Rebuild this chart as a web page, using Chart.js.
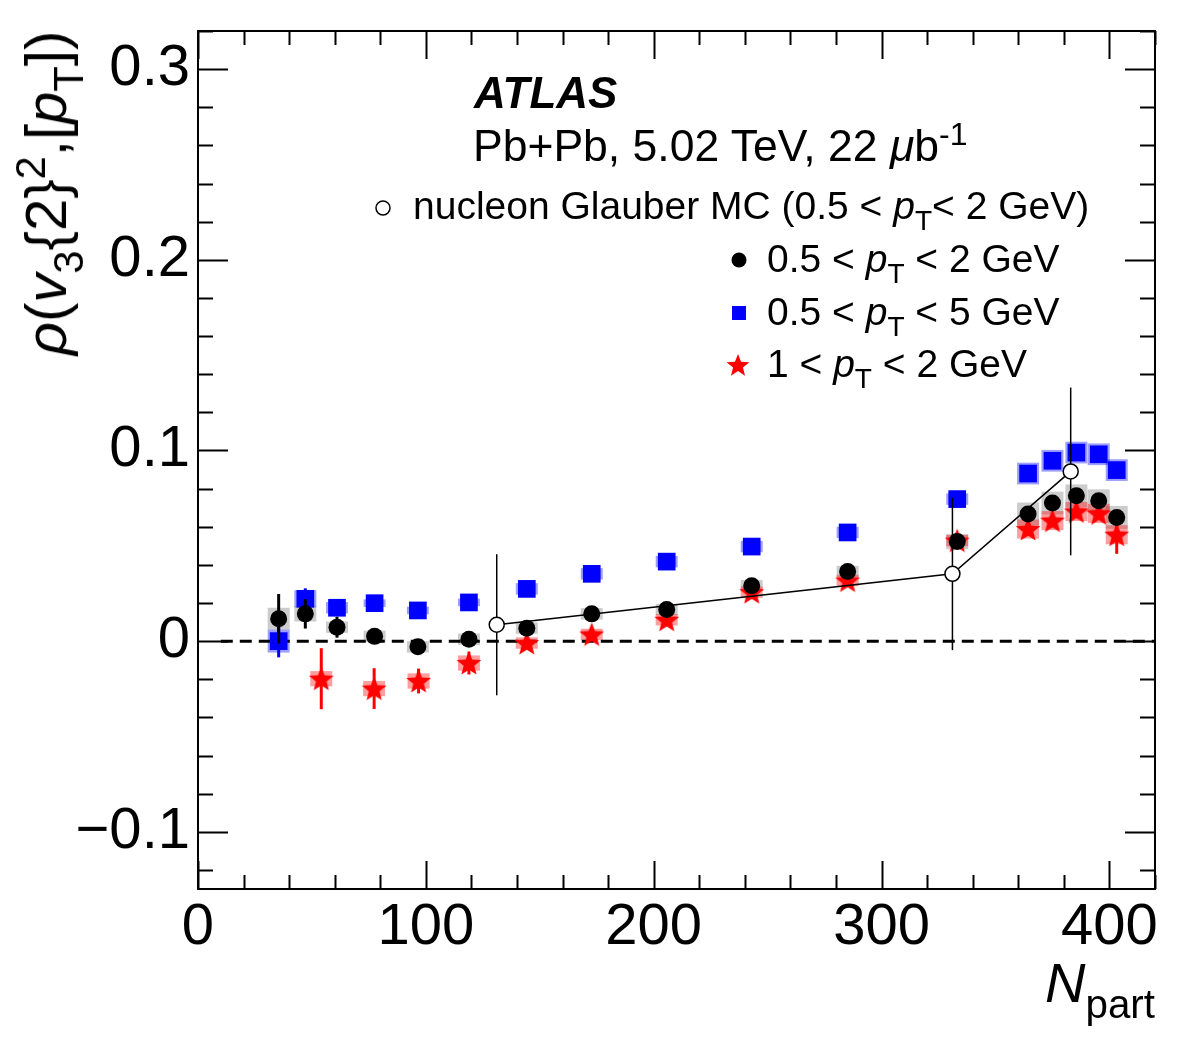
<!DOCTYPE html>
<html>
<head>
<meta charset="utf-8">
<script src="https://cdn.jsdelivr.net/npm/chart.js@4.4.1/dist/chart.umd.min.js"></script>
<style>
  html, body { margin: 0; padding: 0; background: #fff; }
  #wrap { position: relative; width: 1182px; height: 1059px; font-family: "Liberation Sans", Arial, sans-serif; color: #000; }
  #wrap canvas { position: absolute; left: 0; top: 0; }
  .txt { position: absolute; white-space: nowrap; line-height: 1; }
  .lo { font-size: 0.72em; position: relative; top: 0.4em; line-height: 0; }
  .hi { font-size: 0.72em; position: relative; top: -0.5em; line-height: 0; }
</style>
</head>
<body>
<div id="wrap">
  <canvas id="c" width="1182" height="1059"></canvas>

  <div class="txt" id="atlas" style="left:474px;top:71px;font-size:44px;font-weight:bold;font-style:italic;">ATLAS</div>
  <div class="txt" id="lumi" style="left:473px;top:124px;font-size:44.5px;">Pb+Pb, 5.02 TeV, 22 <i>μ</i>b<span class="hi">-1</span></div>

  <div class="txt" style="left:413px;top:186px;font-size:39px;">nucleon Glauber MC (0.5 &lt; <i>p</i><span class="lo">T</span>&lt; 2 GeV)</div>
  <div class="txt" style="left:767px;top:239px;font-size:39px;">0.5 &lt; <i>p</i><span class="lo">T</span> &lt; 2 GeV</div>
  <div class="txt" style="left:767px;top:292px;font-size:39px;">0.5 &lt; <i>p</i><span class="lo">T</span> &lt; 5 GeV</div>
  <div class="txt" style="left:767px;top:344px;font-size:39px;">1 &lt; <i>p</i><span class="lo">T</span> &lt; 2 GeV</div>

  <div class="txt" id="ytitle" style="left:46px;top:193px;font-size:58px;transform:translate(-50%,-50%) rotate(-90deg);"><i>ρ</i>(<i>v</i><span class="lo">3</span>{2}<span class="hi">2</span>,[<i>p</i><span class="lo">T</span>])</div>
  <div class="txt" id="xtitle" style="right:27px;top:955px;font-size:56px;"><i>N</i><span class="lo">part</span></div>
</div>

<script>
// ── Data ──
const FONT = '"Liberation Sans", Arial, sans-serif';

const X_TICKS = [0, 100, 200, 300, 400];
const Y_TICKS = [-0.1, 0, 0.1, 0.2, 0.3];
const Y_LABELS = ['\u22120.1', '0', '0.1', '0.2', '0.3'];

// nucleon Glauber MC (0.5 < pT < 2 GeV)
const GLAUBER_X   = [131.1, 331.1, 383.0];
const GLAUBER_Y   = [0.0086, 0.0353, 0.0890];
const GLAUBER_ERR = [0.037, 0.040, 0.044];

// data, 0.5 < pT < 2 GeV and 0.5 < pT < 5 GeV
const NPART = [35.4, 47.1, 61.0, 77.5, 96.5, 118.9, 144.3, 172.8, 205.7, 243.0, 285.1, 333.2, 364.3, 375.0, 385.5, 395.3, 403.2];

const PT052_Y    = [0.0117, 0.0143, 0.0073, 0.0025, -0.0030, 0.0010, 0.0068, 0.0143, 0.0166, 0.0291, 0.0365, 0.0522, 0.0667, 0.0724, 0.0762, 0.0736, 0.0649];
const PT052_STAT = [0.013, 0.0077, 0.0055, 0.002, 0.002, 0.002, 0.002, 0.002, 0.002, 0.002, 0.002, 0.002, 0.002, 0.002, 0.002, 0.002, 0.002];
const PT052_SYST = [0.0058, 0.004, 0.003, 0.003, 0.003, 0.003, 0.003, 0.003, 0.003, 0.003, 0.003, 0.004, 0.006, 0.006, 0.006, 0.006, 0.006];

const PT055_Y    = [0.0000, 0.0222, 0.0175, 0.0199, 0.0161, 0.0203, 0.0274, 0.0353, 0.0417, 0.0496, 0.0570, 0.0745, 0.0879, 0.0946, 0.0989, 0.0980, 0.0897];
const PT055_STAT = [0.0085, 0.0055, 0.002, 0.002, 0.002, 0.002, 0.002, 0.002, 0.002, 0.002, 0.002, 0.002, 0.002, 0.002, 0.002, 0.002, 0.002];
const PT055_SYST = [0.006, 0.0045, 0.003, 0.002, 0.002, 0.002, 0.003, 0.003, 0.003, 0.003, 0.003, 0.003, 0.0057, 0.0057, 0.0057, 0.0057, 0.0057];

// data, 1 < pT < 2 GeV
const NPART_12 = [54.1, 77.3, 96.8, 118.9, 144.3, 172.8, 205.7, 243.0, 285.1, 333.2, 364.3, 375.0, 385.5, 395.3, 403.2];
const PT12_Y    = [-0.0197, -0.0249, -0.0209, -0.0115, -0.0010, 0.0035, 0.0112, 0.0257, 0.0318, 0.0527, 0.0588, 0.0632, 0.0680, 0.0670, 0.0558];
const PT12_STAT = [0.016, 0.0107, 0.0065, 0.006, 0.003, 0.003, 0.002, 0.002, 0.002, 0.004, 0.002, 0.002, 0.002, 0.003, 0.010];
const PT12_SYST = [0.004, 0.004, 0.004, 0.004, 0.003, 0.003, 0.003, 0.003, 0.003, 0.003, 0.005, 0.005, 0.005, 0.005, 0.005];

const ZERO_FROM = 10;
const BOX_HALF = 11; // px

const pts = (xs, ys) => xs.map((x, i) => ({ x, y: ys[i] }));

function starCanvas(r, color) {
  const s = Math.ceil(2 * r + 2);
  const c = document.createElement('canvas');
  c.width = c.height = s;
  const g = c.getContext('2d');
  g.fillStyle = color;
  g.beginPath();
  for (let k = 0; k < 10; k++) {
    const rr = k % 2 ? r * 0.43 : r;
    const a = -Math.PI / 2 + k * Math.PI / 5;
    g.lineTo(s / 2 + rr * Math.cos(a), s / 2 + rr * Math.sin(a) + r * 0.08);
  }
  g.closePath();
  g.fill();
  return c;
}

const SYST_SETS = [
  { x: NPART, y: PT052_Y, syst: PT052_SYST, color: 'rgba(0,0,0,0.2)' },
  { x: NPART, y: PT055_Y, syst: PT055_SYST, color: 'rgba(0,0,255,0.38)' },
  { x: NPART_12, y: PT12_Y, syst: PT12_SYST, color: 'rgba(255,0,0,0.38)' },
];

const decor = {
  id: 'decor',
  beforeDatasetsDraw(chart) {
    const { ctx, chartArea: a, scales: { x, y } } = chart;
    ctx.save();
    ctx.beginPath(); ctx.rect(a.left, a.top, a.right - a.left, a.bottom - a.top); ctx.clip();
    SYST_SETS.forEach(s => {
      ctx.fillStyle = s.color;
      s.x.forEach((xv, i) => {
        const px = x.getPixelForValue(xv);
        const t = y.getPixelForValue(s.y[i] + s.syst[i]);
        const b = y.getPixelForValue(s.y[i] - s.syst[i]);
        ctx.fillRect(px - BOX_HALF, t, 2 * BOX_HALF, b - t);
      });
    });
    // dashed zero line
    ctx.setLineDash([12, 7]);
    ctx.lineWidth = 3;
    ctx.strokeStyle = '#000';
    ctx.beginPath();
    ctx.moveTo(x.getPixelForValue(ZERO_FROM), y.getPixelForValue(0));
    ctx.lineTo(a.right, y.getPixelForValue(0));
    ctx.stroke();
    ctx.restore();
  },
  beforeDatasetDraw(chart, args) {
    const ds = chart.data.datasets[args.index];
    if (!ds.err) return;
    const { ctx, scales: { x, y } } = chart;
    ctx.save();
    ctx.strokeStyle = ds.errColor;
    ctx.lineWidth = ds.errWidth;
    ds.data.forEach((p, i) => {
      const px = x.getPixelForValue(p.x);
      ctx.beginPath();
      ctx.moveTo(px, y.getPixelForValue(p.y + ds.err[i]));
      ctx.lineTo(px, y.getPixelForValue(p.y - ds.err[i]));
      ctx.stroke();
    });
    ctx.restore();
  },
  afterDraw(chart) {
    const { ctx, chartArea: a, scales: { x, y } } = chart;
    ctx.save();
    ctx.strokeStyle = '#000';
    ctx.lineWidth = 2;
    ctx.strokeRect(a.left, a.top, a.right - a.left, a.bottom - a.top);
    ctx.beginPath();
    for (let v = 0; v <= 420; v += 20) {
      const px = Math.round(x.getPixelForValue(v)) + 0.5;
      const len = v % 100 === 0 ? 28 : 14;
      ctx.moveTo(px, a.bottom); ctx.lineTo(px, a.bottom - len);
      ctx.moveTo(px, a.top); ctx.lineTo(px, a.top + len);
    }
    for (let k = -6; k <= 16; k++) {
      const v = k * 0.02;
      const py = Math.round(y.getPixelForValue(v)) + 0.5;
      const len = k % 5 === 0 ? 30 : 15;
      ctx.moveTo(a.left, py); ctx.lineTo(a.left + len, py);
      ctx.moveTo(a.right, py); ctx.lineTo(a.right - len, py);
    }
    ctx.stroke();

    // legend markers
    ctx.lineWidth = 1.5;
    ctx.fillStyle = '#fff';
    ctx.beginPath(); ctx.arc(383, 208, 7, 0, 2 * Math.PI); ctx.fill(); ctx.stroke();
    ctx.fillStyle = '#000';
    ctx.beginPath(); ctx.arc(739, 260, 7.5, 0, 2 * Math.PI); ctx.fill();
    ctx.fillStyle = '#0000ff';
    ctx.fillRect(732, 306, 14, 14);
    const st = starCanvas(12, '#ff0000');
    ctx.drawImage(st, 738 - st.width / 2, 365 - st.height / 2);
    ctx.restore();
  }
};

new Chart(document.getElementById('c'), {
  type: 'scatter',
  data: {
    datasets: [
      {
        label: 'nucleon Glauber MC',
        data: pts(GLAUBER_X, GLAUBER_Y),
        showLine: true,
        borderColor: '#000', borderWidth: 1.5,
        pointStyle: 'circle', pointRadius: 7.5, pointBackgroundColor: '#fff',
        pointBorderColor: '#000', pointBorderWidth: 1.5,
        err: GLAUBER_ERR, errColor: '#000', errWidth: 1.5,
      },
      {
        label: '0.5 < pT < 2 GeV',
        data: pts(NPART, PT052_Y),
        pointStyle: 'circle', pointRadius: 8.5,
        pointBackgroundColor: '#000', pointBorderColor: '#000', pointBorderWidth: 0,
        err: PT052_STAT, errColor: '#000', errWidth: 3,
      },
      {
        label: '1 < pT < 2 GeV',
        data: pts(NPART_12, PT12_Y),
        pointStyle: starCanvas(13, '#ff0000'),
        err: PT12_STAT, errColor: '#ff0000', errWidth: 3,
      },
      {
        label: '0.5 < pT < 5 GeV',
        data: pts(NPART, PT055_Y),
        pointStyle: 'rect', pointRadius: 12.5, pointRotation: 0,
        pointBackgroundColor: '#0000ff', pointBorderColor: '#0000ff', pointBorderWidth: 0,
        err: PT055_STAT, errColor: '#0000ff', errWidth: 3,
      },
    ]
  },
  options: {
    responsive: false,
    animation: false,
    devicePixelRatio: 1,
    layout: { padding: { top: 31, right: 27, left: 0, bottom: 0 } },
    plugins: { legend: { display: false }, tooltip: { enabled: false } },
    scales: {
      x: {
        type: 'linear', min: 0, max: 420,
        afterBuildTicks: s => { s.ticks = X_TICKS.map(v => ({ value: v })); },
        afterFit: s => { s.height = 170; s.paddingLeft = 0; s.paddingRight = 0; },
        grid: { display: false, drawTicks: false },
        border: { display: false },
        ticks: { font: { family: FONT, size: 58 }, color: '#000', padding: 4, maxRotation: 0, autoSkip: false },
      },
      y: {
        type: 'linear', min: -0.13, max: 0.32,
        afterBuildTicks: s => { s.ticks = Y_TICKS.map(v => ({ value: v })); },
        afterFit: s => { s.width = 198; s.paddingTop = 0; s.paddingBottom = 0; },
        grid: { display: false, drawTicks: false },
        border: { display: false },
        ticks: {
          font: { family: FONT, size: 58 }, color: '#000', padding: 8, autoSkip: false,
          callback: v => Y_LABELS[Y_TICKS.findIndex(t => Math.abs(t - v) < 1e-9)],
        },
      },
    },
  },
  plugins: [decor],
});
</script>
</body>
</html>
